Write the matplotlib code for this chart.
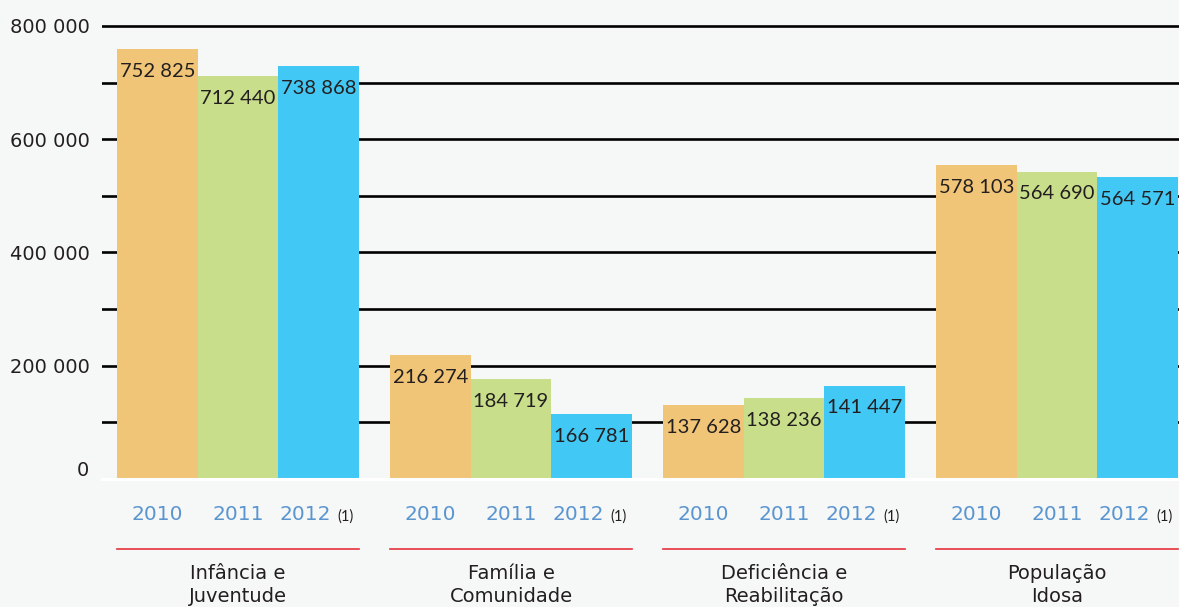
import matplotlib.pyplot as plt
from matplotlib.transforms import blended_transform_factory, ScaledTranslation

categories = ["Infância e\nJuventude", "Família e\nComunidade",
              "Deficiência e\nReabilitação", "População\nIdosa"]
years = ["2010", "2011", "2012"]
note = "(1)"

# bar heights as drawn in the picture (they do not always match the printed labels)
h2010 = [759000, 218500, 130000, 554000]
h2011 = [711000, 176000, 142500, 542000]
h2012 = [729000, 114000, 164000, 533000]

lab2010 = ["752 825", "216 274", "137 628", "578 103"]
lab2011 = ["712 440", "184 719", "138 236", "564 690"]
lab2012 = ["738 868", "166 781", "141 447", "564 571"]

yticks = [0, 200000, 400000, 600000, 800000]
yticklabels = ["0", "200 000", "400 000", "600 000", "800 000"]

colors = ["#F0C577", "#C8DE8A", "#42C8F4"]
bg = "#F6F7F7"
W, H = 1179, 607

fig = plt.figure(figsize=(W / 100, H / 100), dpi=100, facecolor=bg)
ax = fig.add_axes([102 / W, (H - 478.7) / H, 1 - 102 / W, 478.7 / H])
ax.set_facecolor(bg)

px = 1 / 273.0  # data units per pixel along x
bw = 80.5 * px
x = list(range(len(categories)))

for y in range(100000, 900000, 100000):
    ax.axhline(y, color="black", lw=1.9, zorder=1)

heights = [h2010, h2011, h2012]
labels = [lab2010, lab2011, lab2012]
for i in range(3):
    pos = [c + (i - 1) * bw for c in x]
    ax.bar(pos, heights[i], width=bw, color=colors[i], zorder=2)
    for xp, hv, t in zip(pos, heights[i], labels[i]):
        ax.annotate(t, (xp, hv), xytext=(0, -22), textcoords="offset pixels",
                    ha="center", va="center", fontsize=14.5, color="#231F20",
                    family="Lato", zorder=3)

ax.axhline(0, color="white", lw=2.2, zorder=4, clip_on=False)

ax.set_xlim(-0.498, -0.498 + 1077 * px)
ax.set_ylim(0, 478.7 / 56.6 * 100000)
ax.set_yticks(yticks)
ax.set_yticklabels(yticklabels, fontsize=14, color="#231F20", family="DejaVu Sans")
ax.tick_params(axis="y", length=0, pad=9)
ax.set_xticks([])
for s in ax.spines.values():
    s.set_visible(False)
lbl0 = ax.get_yticklabels()[0]
lbl0.set_transform(lbl0.get_transform() + ScaledTranslation(0, 0.10, fig.dpi_scale_trans))

tr = blended_transform_factory(ax.transData, fig.transFigure)
for c, cat in zip(x, categories):
    for i, yr in enumerate(years):
        xc = c + (i - 1) * bw
        if i == 2:
            ax.text(xc - 13 * px, 1 - 515 / H, yr, transform=tr, ha="center", va="center",
                    fontsize=14.5, color="#5B95D0", family="DejaVu Sans", clip_on=False)
            ax.text(xc + 19 * px, 1 - 517 / H, note, transform=tr, ha="left", va="center",
                    fontsize=10.5, color="#231F20", family="Lato", clip_on=False)
        else:
            ax.text(xc, 1 - 515 / H, yr, transform=tr, ha="center", va="center",
                    fontsize=14.5, color="#5B95D0", family="DejaVu Sans", clip_on=False)
    ax.plot([c - 1.5 * bw, c + 1.5 * bw], [1 - 549 / H] * 2, transform=tr,
            color="#E4323C", lw=1.2, clip_on=False)
    ax.text(c, 1 - 585 / H, cat, transform=tr, ha="center", va="center",
            fontsize=14, color="#231F20", family="DejaVu Sans", linespacing=1.25, clip_on=False)

fig.savefig("out.png", dpi=100, facecolor=bg)
